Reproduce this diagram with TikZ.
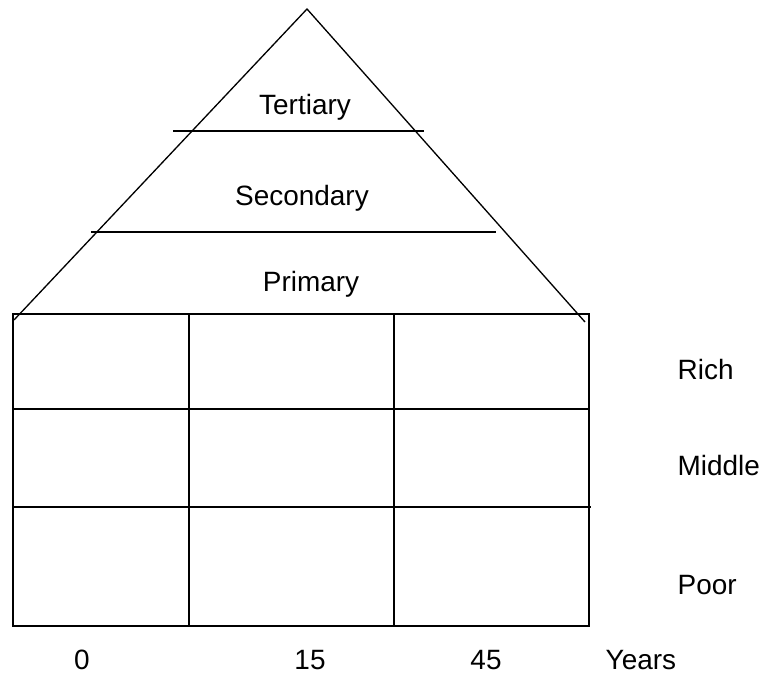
\documentclass[tikz,border=0pt]{standalone}
\usepackage{fontspec}
\setmainfont{Liberation Sans}

\begin{document}
\begin{tikzpicture}[x=0.02cm, y=-0.02cm, line width=0.75pt,
            every node/.style={inner sep=0pt, font=\fontsize{15.9}{19}\selectfont},
            lbl/.style={anchor=base}, side/.style={anchor=base west}]
            \useasboundingbox (0,0) rectangle (766,675);
            % pyramid
            \coordinate(top) at (307,9);
            \coordinate(bl) at (14,320);
            \coordinate(br) at (585,322);
            \draw(bl) -- (top) -- (br);
            \coordinate(t1) at (173,131);
            \coordinate(t2) at (424,131);
            \coordinate(s1) at (91,232);
            \coordinate(s2) at (496,232);
            \draw(t1) -- (t2);
            \draw(s1) -- (s2);
            \node[lbl](tertiary) at (305,115) {Tertiary};
            \node[lbl](secondary) at (302,206) {Secondary};
            \node[lbl](primary) at (311,291) {Primary};

            % grid
            \coordinate(g1) at (13,314);
            \coordinate(g2) at (589,626);
            \draw(g1) rectangle (g2);
            \draw(189,314) -- (189,626);
            \draw(394,314) -- (394,626);
            \draw(13,409) -- (589,409);
            \draw(13,507) -- (591,507);

            \node[side](rich) at (677,379) {Rich};
            \node[side](middle) at (677,475) {Middle};
            \node[side](poor) at (677,594) {Poor};

            \node[lbl](y0) at (82,669) {0};
            \node[lbl](y15) at (310,669) {15};
            \node[lbl](y45) at (486,669) {45};
            \node[side](years) at (605,669) {Years};
        \end{tikzpicture}
\end{document}
